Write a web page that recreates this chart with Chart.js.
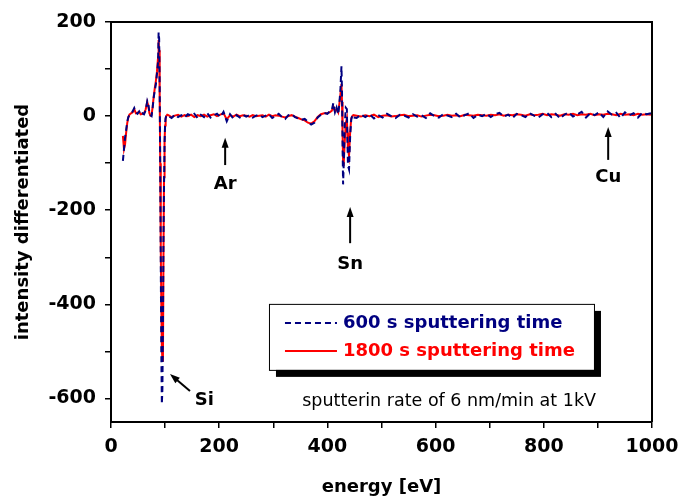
<!DOCTYPE html>
<html>
<head>
<meta charset="utf-8">
<script src="https://cdn.jsdelivr.net/npm/chart.js@4.4.1/dist/chart.umd.min.js"></script>
<style>
  html, body { margin: 0; padding: 0; background: #fff; }
  #wrap { width: 680px; height: 500px; }
</style>
</head>
<body>
<div id="wrap"><canvas id="aesChart" width="680" height="500"></canvas></div>
<script>
// AES spectrum (differentiated), two sputtering times

// energy axis [eV] - finer steps around the Si and Sn features
const energy = [
  // Si region
  22, 24, 26, 28, 30, 32, 34, 37, 40, 43, 46, 49, 52, 55, 58, 61, 64, 67, 69, 71,
  73, 75, 77, 79, 81, 83, 85, 87, 88, 89, 90, 91, 92, 93, 94, 95, 96, 97, 98, 99,
  100, 101, 102, 104,
  // flat part up to Sn
  106, 112, 118, 124, 130, 136, 142, 148, 154, 160, 166, 172, 178, 184, 190, 196, 202, 208, 214, 220,
  226, 232, 238, 244, 250, 256, 262, 268, 274, 280, 286, 292, 298, 304, 310, 316, 322, 328, 334, 340,
  346, 352, 358, 364, 370, 376, 382, 388, 394, 400,
  // Sn region
  404, 408, 411, 414, 417, 420, 422, 424, 426, 427, 428, 429, 430, 432, 434, 436, 437, 438, 440, 442,
  444, 446, 448,
  // flat part to the end
  454, 462, 470, 478, 486, 494, 502, 510, 518, 526, 534, 542, 550, 558, 566, 574, 582, 590, 598, 606,
  614, 622, 630, 638, 646, 654, 662, 670, 678, 686, 694, 702, 710, 718, 726, 734, 742, 750, 758, 766,
  774, 782, 790, 798, 806, 814, 822, 830, 838, 846, 854, 862, 870, 878, 886, 894, 902, 910, 918, 926,
  934, 942, 950, 958, 966, 974, 982, 990, 998
];

// 600 s sputtering time
const sput600 = [
  -95, -70, -45, -30, -12, -2, 2, 5, 10, 17, 8, 5, 10, 3, 6, 4, 12, 32, 25, 8,
  2, 0, 18, 40, 55, 68, 90, 115, 178, 165, 60, -120, -320, -500, -612, -580, -450, -260, -150, -60,
  -15, -4, -1, 2,

  0, -4, 3, -2, 2, -3, 4, 1, 5, -4, 3, -2, 6, -3, 2, 5, -2, 9, -11, 4,
  -5, 2, -3, 3, -1, 2, -3, 1, 3, -2, 1, 4, -4, 0, 5, -2, -6, 2, 4, -2,
  -5, -8, -6, -12, -18, -14, -3, 3, 7, 5,

  10, 12, 28, 8, 18, 4, 25, 55, 106, 50, -60, -145, -110, -20, 18, 15, -50, -105, -113, -45,
  -8, 2, -3,

  -4, 3, -2, 4, -5, 2, -3, 5, 0, -4, 3, 1, -3, 4, -1, 2, -4, 6, 0, -3,
  4, 1, -2, 5, -3, 2, 6, -4, 3, 0, 5, -2, 4, 7, -1, 3, -4, 5, 2, -2,
  6, 1, -3, 4, 7, -2, 5, -5, 3, 8, -1, 4, 9, -3, 6, 2, 8, -2, 10, 3,
  7, -4, 8, 2, 6, -3, 7, 4, 6
];

// 1800 s sputtering time
const sput1800 = [
  -42, -70, -60, -35, -15, -3, 3, 6, 8, 15, 6, 7, 9, 4, 5, 6, 14, 30, 22, 6,
  1, 2, 20, 42, 60, 75, 95, 125, 162, 140, 40, -100, -280, -400, -490, -520, -515, -300, -130, -55,
  -20, -6, 0, 3,

  2, -2, 1, 3, -1, 2, 0, 3, -2, 2, 0, 3, -1, 2, 4, 0, 3, 6, -7, 2,
  -1, 3, 0, 2, 1, -1, 2, 0, 1, 2, -1, 3, 0, 2, 1, -1, -3, 0, 2, -1,
  -4, -7, -9, -14, -16, -11, -2, 4, 6, 6,

  8, 11, 20, 10, 15, 8, 25, 45, 68, 30, -35, -95, -106, -55, -15, -5, -35, -70, -84, -35,
  -5, 0, 2,

  1, -1, 2, 0, 3, -2, 1, 2, -1, 0, 2, 3, 0, 1, 2, -1, 1, 3, 2, 0,
  1, 3, 1, 2, 0, 3, 2, 1, 3, 2, 1, 3, 2, 4, 1, 3, 2, 4, 3, 1,
  4, 2, 3, 5, 2, 4, 3, 1, 4, 3, 5, 2, 4, 3, 5, 2, 4, 3, 5, 4,
  2, 5, 3, 4, 2, 5, 3, 4, 3
];

const seriesLabels = ['600 s sputtering time', '1800 s sputtering time'];

// element markers: label, arrow tail/tip and label position in data units
const peakNames = ['Ar', 'Sn', 'Cu'];
const peakEnergy = [211, 442, 919];
const peakArrow = [[-104, -46], [-270, -193], [-93, -23]];
const peakLabelY = [-146, -316, -131];

const noteText = 'sputterin rate of 6 nm/min at 1kV';

const FONT = 'DejaVu Sans';
Chart.defaults.font.family = FONT;
Chart.defaults.color = '#000';

function arrow(ctx, x1, y1, x2, y2) {
  const ang = Math.atan2(y2 - y1, x2 - x1);
  const len = 10, half = 3.5;
  ctx.beginPath();
  ctx.moveTo(x1, y1);
  ctx.lineTo(x2 - Math.cos(ang) * len * 0.8, y2 - Math.sin(ang) * len * 0.8);
  ctx.stroke();
  ctx.beginPath();
  ctx.moveTo(x2, y2);
  ctx.lineTo(x2 - Math.cos(ang) * len + Math.sin(ang) * half, y2 - Math.sin(ang) * len - Math.cos(ang) * half);
  ctx.lineTo(x2 - Math.cos(ang) * len - Math.sin(ang) * half, y2 - Math.sin(ang) * len + Math.cos(ang) * half);
  ctx.closePath();
  ctx.fill();
}

// frame, arrows, note and the boxed legend
const decorPlugin = {
  id: 'decor',
  afterDatasetsDraw(chart) {
    const { ctx, chartArea: a, scales: { x, y } } = chart;
    ctx.save();
    ctx.strokeStyle = '#000';
    ctx.fillStyle = '#000';
    ctx.lineWidth = 2;
    ctx.beginPath();
    ctx.moveTo(a.left, a.top);
    ctx.lineTo(a.right, a.top);
    ctx.lineTo(a.right, a.bottom);
    ctx.stroke();

    ctx.font = 'bold 18px ' + FONT;
    ctx.textAlign = 'center';
    ctx.textBaseline = 'middle';
    peakNames.forEach((n, i) => {
      const px = x.getPixelForValue(peakEnergy[i]);
      arrow(ctx, px, y.getPixelForValue(peakArrow[i][0]), px, y.getPixelForValue(peakArrow[i][1]));
      ctx.fillText(n, px, y.getPixelForValue(peakLabelY[i]));
    });
    // Si arrow points up-left to the big minimum
    arrow(ctx, x.getPixelForValue(146), y.getPixelForValue(-584), x.getPixelForValue(109), y.getPixelForValue(-548));
    ctx.textAlign = 'left';
    ctx.fillText('Si', x.getPixelForValue(155), y.getPixelForValue(-604));

    ctx.font = '17.5px ' + FONT;
    ctx.textAlign = 'center';
    ctx.fillText(noteText, x.getPixelForValue(625), y.getPixelForValue(-607));

    // legend box with shadow
    const bx = x.getPixelForValue(292), by = y.getPixelForValue(-399);
    const bw = 325, bh = 66;
    ctx.fillStyle = '#000';
    ctx.fillRect(bx + 7, by + 7, bw, bh);
    ctx.fillStyle = '#fff';
    ctx.fillRect(bx, by, bw, bh);
    ctx.lineWidth = 1;
    ctx.strokeRect(bx + 0.5, by + 0.5, bw, bh);
    ctx.font = 'bold 18px ' + FONT;
    ctx.textAlign = 'left';
    chart.data.datasets.forEach((ds, i) => {
      const ly = by + 19 + i * 28;
      ctx.strokeStyle = ds.borderColor;
      ctx.lineWidth = 2;
      ctx.setLineDash(ds.borderDash || []);
      ctx.beginPath();
      ctx.moveTo(bx + 16, ly);
      ctx.lineTo(bx + 68, ly);
      ctx.stroke();
      ctx.setLineDash([]);
      ctx.fillStyle = ds.borderColor;
      ctx.fillText(ds.label, bx + 74, ly);
    });
    ctx.restore();
  }
};

const tickFont = { family: FONT, weight: 'bold', size: 19 };
const titleFont = { family: FONT, weight: 'bold', size: 18 };

const ctx = document.getElementById('aesChart').getContext('2d');
new Chart(ctx, {
  type: 'line',
  data: {
    datasets: [
      {
        label: seriesLabels[0],
        data: energy.map((e, i) => ({ x: e, y: sput600[i] })),
        borderColor: '#000080',
        borderWidth: 2,
        borderDash: [6, 4],
        pointRadius: 0,
        tension: 0,
        fill: false
      },
      {
        label: seriesLabels[1],
        data: energy.map((e, i) => ({ x: e, y: sput1800[i] })),
        borderColor: '#ff0000',
        borderWidth: 2,
        pointRadius: 0,
        tension: 0,
        fill: false
      }
    ]
  },
  options: {
    responsive: false,
    animation: false,
    devicePixelRatio: 1,
    layout: { padding: { top: 22, right: 28, left: 0, bottom: 0 } },
    plugins: { legend: { display: false }, tooltip: { enabled: false } },
    scales: {
      x: {
        type: 'linear',
        min: 0,
        max: 1000,
        ticks: {
          stepSize: 100,
          autoSkip: false,
          maxRotation: 0,
          padding: 8,
          font: tickFont,
          color: '#000',
          callback: v => (v % 200 === 0 ? v : '')
        },
        grid: { drawOnChartArea: false, tickLength: 6, color: '#000', lineWidth: 1.5 },
        border: { display: true, color: '#000', width: 2 },
        title: { display: true, text: 'energy [eV]', font: titleFont, color: '#000', padding: { top: 0, bottom: 2 } },
        afterFit: s => { s.height = 78; s.paddingLeft = 0; s.paddingRight = 0; }
      },
      y: {
        min: -650,
        max: 200,
        ticks: {
          stepSize: 100,
          autoSkip: false,
          padding: 9,
          font: tickFont,
          color: '#000',
          callback: v => (v % 200 === 0 ? v : '')
        },
        afterBuildTicks: s => { s.ticks = s.ticks.filter(t => t.value % 100 === 0); },
        grid: { drawOnChartArea: false, tickLength: 6, color: '#000', lineWidth: 1.5 },
        border: { display: true, color: '#000', width: 2 },
        title: { display: true, text: 'intensity differentiated', font: titleFont, color: '#000', padding: { top: 13, bottom: 0 } },
        afterFit: s => { s.width = 111; s.paddingTop = 0; s.paddingBottom = 0; }
      }
    }
  },
  plugins: [decorPlugin]
});
</script>
</body>
</html>
